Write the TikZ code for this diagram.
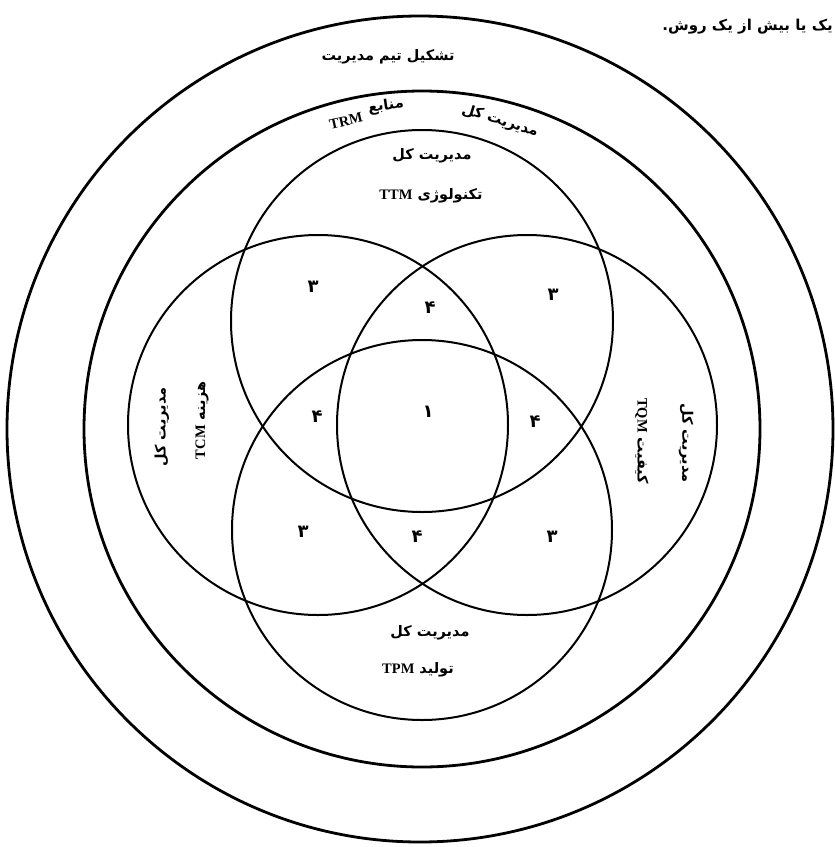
\documentclass[tikz,border=0pt]{standalone}
\usepackage{fontspec}
\setmainfont{Liberation Serif}
\newfontfamily\fa[Script=Arabic]{DejaVu Sans}
\TeXXeTstate=1
\tikzset{
  ring/.style={line width=2.8pt},
  venn/.style={line width=2pt},
  lab/.style={font=\fa\bfseries\fontsize{14.5}{16}\selectfont, inner sep=0pt},
  num/.style={font=\fa\bfseries\fontsize{18}{18}\selectfont, inner sep=0pt},
}
\newcommand{\lt}[1]{\beginL{\rmfamily\bfseries #1}\endL}
\begin{document}
\begin{tikzpicture}[x=1pt,y=-1pt]
\useasboundingbox (0,0) rectangle (835,847);
% rings
\draw[ring] (420,429) circle[radius=413pt];
\draw[ring] (422,429) circle[radius=338pt];
% venn circles
\draw[venn] (422,321) circle[radius=191pt];
\draw[venn] (422,530) circle[radius=190pt];
\draw[venn] (318,425) circle[radius=190pt];
\draw[venn] (527,425) circle[radius=190pt];
% top-right cut text
\node[lab, anchor=east, font=\fa\bfseries\fontsize{15}{16}\selectfont] (note) at (833,27) {\beginR یک یا بیش از یک روش.\endR};
% outer ring label
\node[lab] (team) at (388,57) {\beginR تشکیل تیم مدیریت\endR};
% TRM arc labels
\node[lab, rotate=-17] (trm1) at (500,121) {\beginR مدیریت کل\endR};
\node[lab, rotate=8] (trm2) at (386,106) {\beginR منابع\endR};
\node[lab, rotate=13] (trm3) at (346,121) {\lt{TRM}};
% TTM
\node[lab] (ttm1) at (432,156) {\beginR مدیریت کل\endR};
\node[lab] (ttm2) at (431,196) {\beginR تکنولوژی \lt{TTM}\endR};
% TCM
\node[lab, rotate=90] (tcm1) at (162,427) {\beginR مدیریت کل\endR};
\node[lab, rotate=90] (tcm2) at (202,420) {\beginR هزینه \lt{TCM}\endR};
% TQM
\node[lab, rotate=-90] (tqm1) at (686,443) {\beginR مدیریت کل\endR};
\node[lab, rotate=-90] (tqm2) at (642,441) {\beginR کیفیت \lt{TQM}\endR};
% TPM
\node[lab] (tpm1) at (430,633) {\beginR مدیریت کل\endR};
\node[lab] (tpm2) at (418,670) {\beginR تولید \lt{TPM}\endR};
% numbers
\node[num] (n3a) at (313,287) {۳};
\node[num] (n4a) at (430,308) {۴};
\node[num] (n3b) at (553,295) {۳};
\node[num] (n4b) at (317,417) {۴};
\node[num] (n1)  at (428,412) {۱};
\node[num] (n4c) at (535,422) {۴};
\node[num] (n3c) at (303,532) {۳};
\node[num] (n4d) at (417,537) {۴};
\node[num] (n3d) at (552,537) {۳};
\end{tikzpicture}
\end{document}
